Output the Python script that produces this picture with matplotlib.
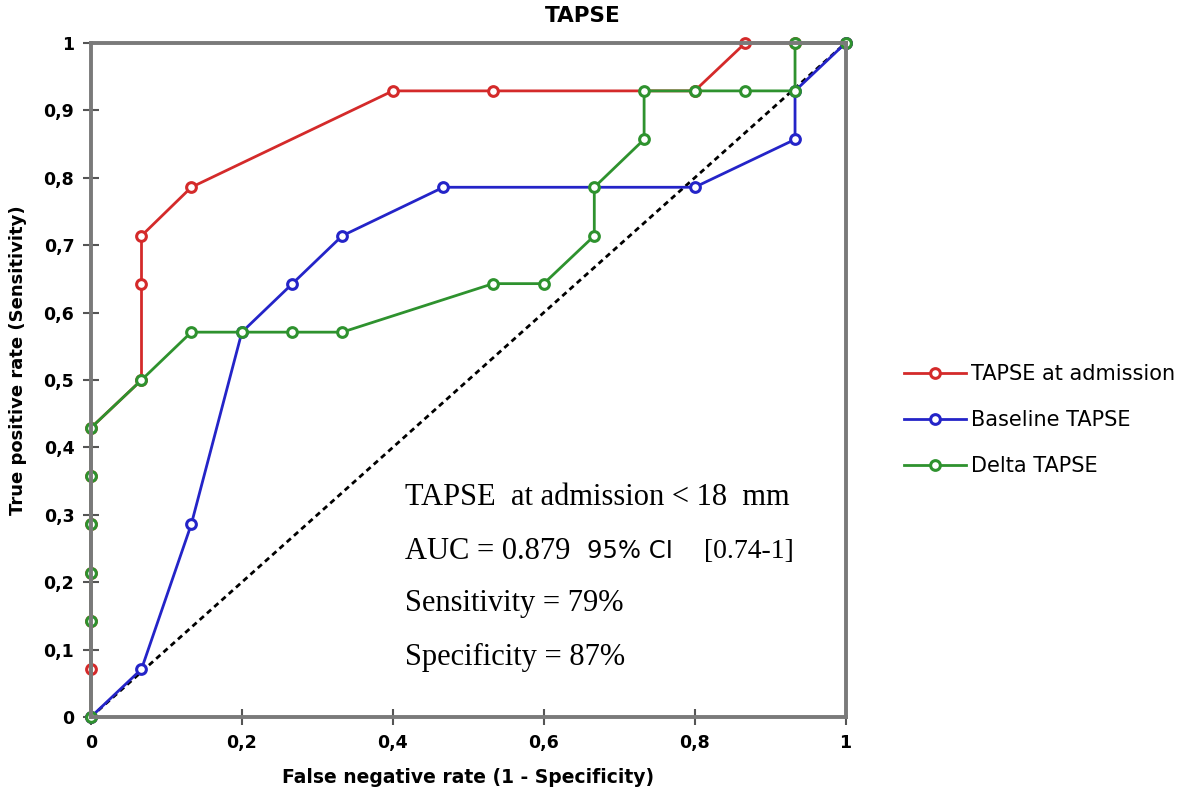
"""
ROC curves for TAPSE
"""
import matplotlib.pyplot as plt

# data
adm_x = [0, 0, 0, 0, 0, 0, 0, 0.067, 0.067, 0.067, 0.133, 0.4, 0.533, 0.8, 0.867, 0.933, 1]
adm_y = [0, 0.071, 0.143, 0.214, 0.286, 0.357, 0.429, 0.5, 0.643, 0.714, 0.786, 0.929, 0.929, 0.929, 1, 1, 1]

base_x = [0, 0.067, 0.133, 0.2, 0.267, 0.333, 0.467, 0.8, 0.933, 0.933, 1]
base_y = [0, 0.071, 0.286, 0.571, 0.643, 0.714, 0.786, 0.786, 0.857, 0.929, 1]

delta_x = [0, 0, 0, 0, 0, 0, 0.067, 0.133, 0.2, 0.267, 0.333, 0.533, 0.6, 0.667, 0.667,
           0.733, 0.733, 0.8, 0.867, 0.933, 0.933, 1]
delta_y = [0, 0.143, 0.214, 0.286, 0.357, 0.429, 0.5, 0.571, 0.571, 0.571, 0.571, 0.643, 0.643,
           0.714, 0.786, 0.857, 0.929, 0.929, 0.929, 0.929, 1, 1]

series = [
    ("TAPSE at admission", adm_x, adm_y, "#d42a2a"),
    ("Baseline TAPSE", base_x, base_y, "#2424c8"),
    ("Delta TAPSE", delta_x, delta_y, "#2e922e"),
]

ticks = [0, 0.1, 0.2, 0.3, 0.4, 0.5, 0.6, 0.7, 0.8, 0.9, 1]
xticks = [0, 0.2, 0.4, 0.6, 0.8, 1]


def fmt(v):
    s = f"{v:g}"
    return s.replace(".", ",")


fig = plt.figure(figsize=(11.81, 7.97), dpi=100)
ax = fig.add_axes([0.077, 0.1004, 0.639, 0.8456])

ax.plot([0, 1], [0, 1], color="black", linestyle=(0, (2, 1.5)), lw=2, zorder=1)

for name, xs, ys, col in series:
    ax.plot(xs, ys, color=col, lw=2, marker="o", markersize=7,
            markerfacecolor="white", markeredgecolor=col, markeredgewidth=2.2,
            label=name, zorder=2)

ax.set_xlim(0, 1)
ax.set_ylim(0, 1)
ax.set_xticks(xticks)
ax.set_xticklabels([fmt(v) for v in xticks])
ax.set_yticks(ticks)
ax.set_yticklabels([fmt(v) for v in ticks])
ax.tick_params(direction="inout", length=12, width=1.5, color="#555555",
               labelsize=12.5, pad=6)
for lab in ax.get_xticklabels() + ax.get_yticklabels():
    lab.set_fontweight("bold")
for sp in ax.spines.values():
    sp.set_color("#7a7a7a")
    sp.set_linewidth(2.8)
    sp.set_clip_on(False)
for line in ax.get_lines():
    line.set_clip_on(False)

ax.set_title("TAPSE", fontsize=15.5, fontweight="bold", pad=15, x=0.652)
ax.set_xlabel("False negative rate (1 - Specificity)", fontsize=13.5, fontweight="bold", labelpad=12)
ax.set_ylabel("True positive rate (Sensitivity)", fontsize=13, fontweight="bold")
ax.yaxis.set_label_coords(-0.085, 0.53)

ax.legend(loc="center left", bbox_to_anchor=(1.052, 0.44), frameon=False,
          fontsize=15, handlelength=3.0, handletextpad=0.25, labelspacing=1.25)

serif = "Liberation Serif"
ax.text(0.416, 0.326, "TAPSE  at admission < 18  mm", fontsize=22, family=serif, va="center")
ax.text(0.416, 0.246, "AUC = 0.879", fontsize=22, family=serif, va="center")
ax.text(0.657, 0.246, "95% CI", fontsize=17.5, family="DejaVu Sans", va="center")
ax.text(0.813, 0.246, "[0.74-1]", fontsize=20, family=serif, va="center")
ax.text(0.416, 0.168, "Sensitivity = 79%", fontsize=22, family=serif, va="center")
ax.text(0.416, 0.088, "Specificity = 87%", fontsize=22, family=serif, va="center")

fig.savefig("out.png", dpi=100)
